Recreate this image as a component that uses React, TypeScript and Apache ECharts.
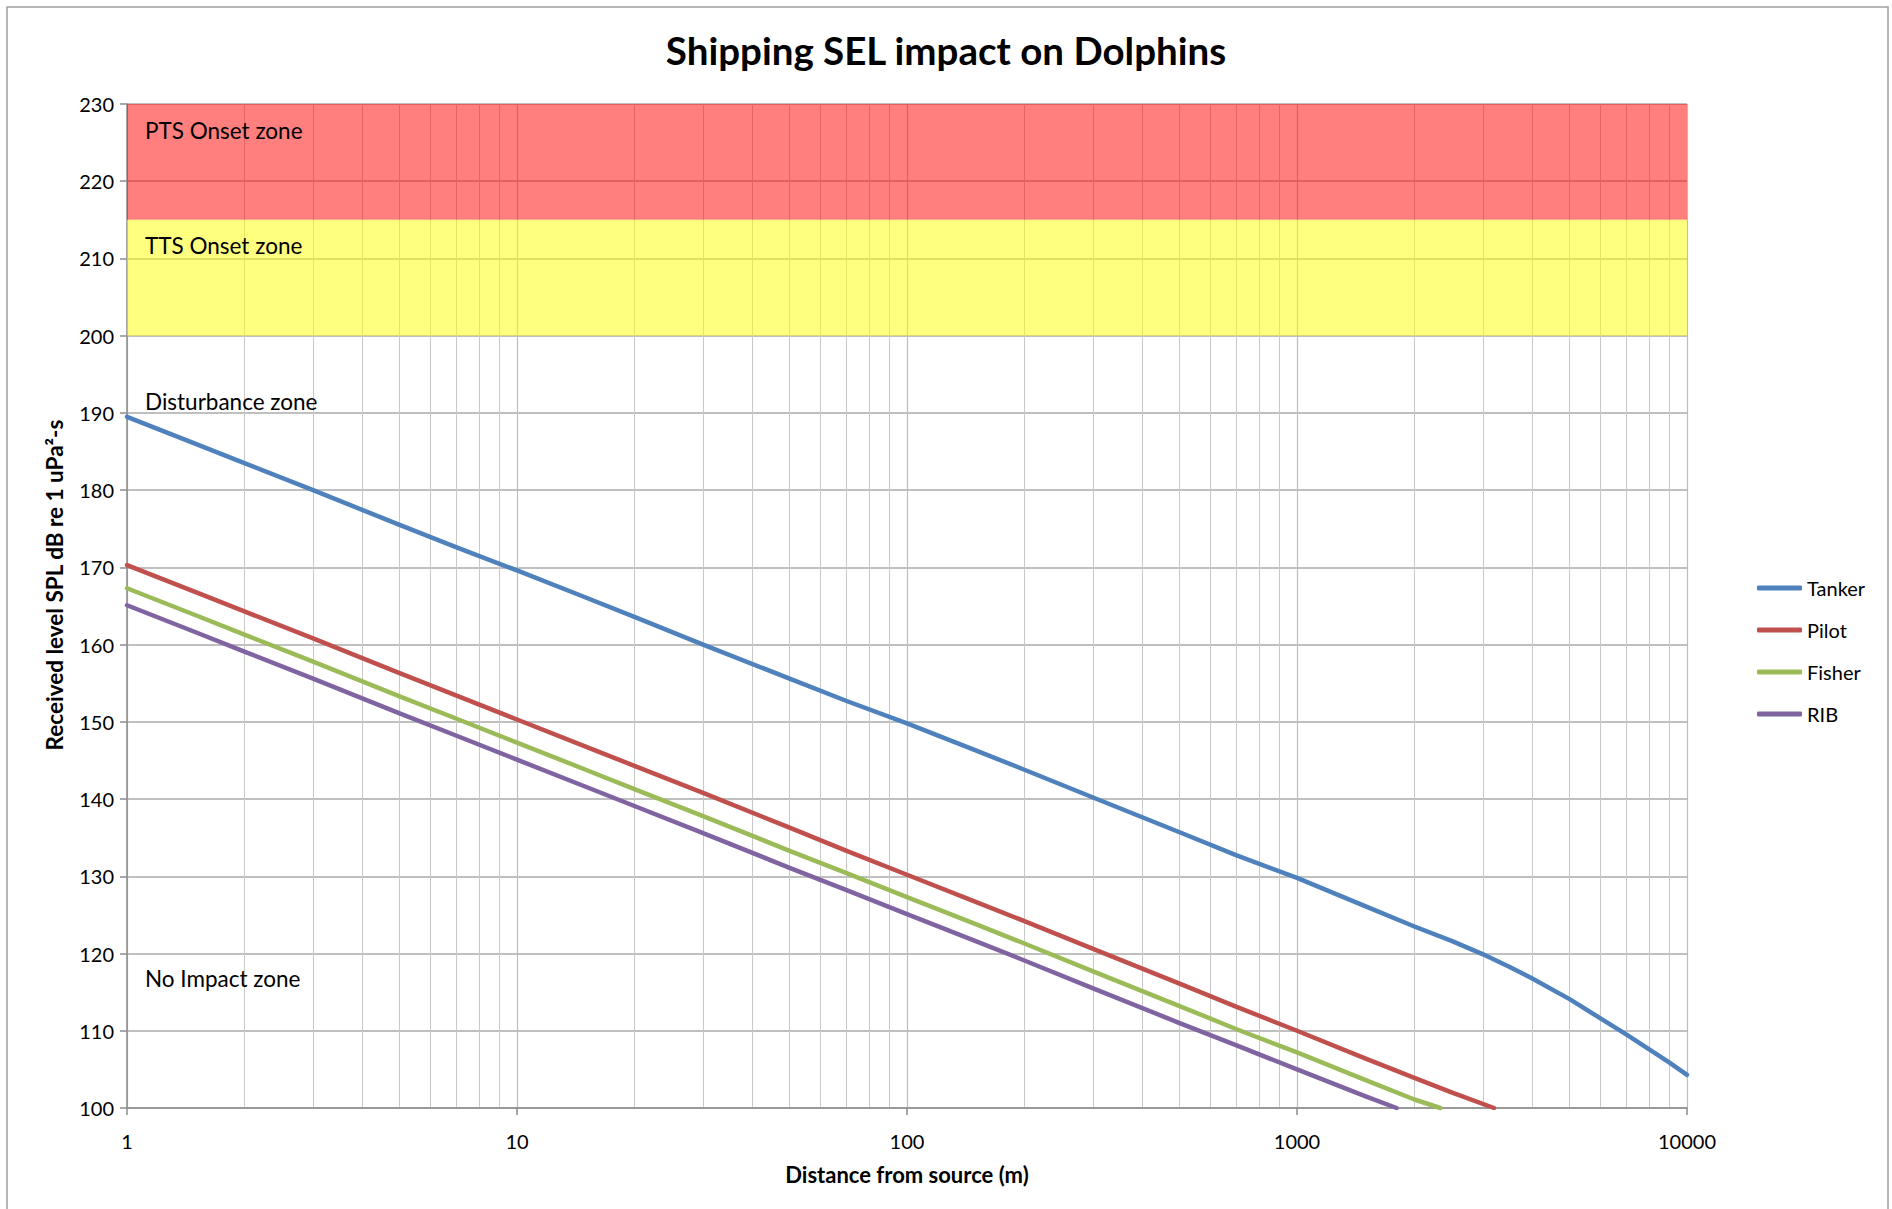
import React, { useEffect, useRef } from "react";
import * as echarts from "echarts";

// ---- Data ----
const TITLE = "Shipping SEL impact on Dolphins";
const X_NAME = "Distance from source (m)";
const Y_NAME = "Received level SPL dB re 1 uPa²-s";

const X_MIN = 1;
const X_MAX = 10000;
const Y_MIN = 100;
const Y_MAX = 230;
const Y_STEP = 10;

// minor (2..9 per decade) vertical grid lines of the log axis
const MINOR_GRID = [
  2, 3, 4, 5, 6, 7, 8, 9,
  20, 30, 40, 50, 60, 70, 80, 90,
  200, 300, 400, 500, 600, 700, 800, 900,
  2000, 3000, 4000, 5000, 6000, 7000, 8000, 9000,
];

const SERIES_NAMES = ["Tanker", "Pilot", "Fisher", "RIB"];
const SERIES_COLORS = ["#4F81BD", "#C0504D", "#9BBB59", "#8064A2"];

const TANKER_X = [1, 1.5, 2, 3, 5, 7, 10, 15, 20, 30, 50, 70, 100, 150, 200, 300, 500, 700, 1000, 1500, 2000, 2500, 3000, 3500, 4000, 5000, 6000, 7000, 8000, 9000, 10000];
const TANKER_Y = [189.5, 186.0, 183.5, 180.0, 175.5, 172.6, 169.6, 166.1, 163.6, 160.0, 155.6, 152.7, 149.8, 146.3, 143.8, 140.2, 135.7, 132.7, 129.8, 126.1, 123.5, 121.6, 119.9, 118.3, 116.8, 114.1, 111.6, 109.5, 107.6, 105.9, 104.3];

const PILOT_X = [1, 1.5, 2, 3, 5, 7, 10, 15, 20, 30, 50, 70, 100, 150, 200, 300, 500, 700, 1000, 1500, 2000, 2500, 3200];
const PILOT_Y = [170.3, 166.8, 164.3, 160.8, 156.3, 153.4, 150.3, 146.8, 144.3, 140.8, 136.3, 133.3, 130.2, 126.7, 124.2, 120.6, 116.1, 113.1, 110.0, 106.4, 103.9, 102.0, 100];

const FISHER_X = [1, 1.5, 2, 3, 5, 7, 10, 15, 20, 30, 50, 70, 100, 150, 200, 300, 500, 700, 1000, 1500, 2000, 2330];
const FISHER_Y = [167.3, 163.8, 161.3, 157.8, 153.3, 150.4, 147.3, 143.8, 141.3, 137.8, 133.3, 130.4, 127.3, 123.8, 121.3, 117.7, 113.2, 110.2, 107.2, 103.6, 101.1, 100];

const RIB_X = [1, 1.5, 2, 3, 5, 7, 10, 15, 20, 30, 50, 70, 100, 150, 200, 300, 500, 700, 1000, 1500, 1800];
const RIB_Y = [165.1, 161.6, 159.1, 155.6, 151.1, 148.2, 145.1, 141.6, 139.1, 135.6, 131.1, 128.2, 125.1, 121.6, 119.1, 115.5, 111.0, 108.1, 105.0, 101.5, 100];

const SERIES_X = [TANKER_X, PILOT_X, FISHER_X, RIB_X];
const SERIES_Y = [TANKER_Y, PILOT_Y, FISHER_Y, RIB_Y];

// Zones (y ranges) and their colours
const ZONE_FROM = [215, 200];
const ZONE_TO = [230, 215];
const ZONE_COLORS = ["rgba(255,0,0,0.5)", "rgba(255,255,0,0.5)"];

const ZONE_LABELS = ["PTS Onset zone", "TTS Onset zone", "Disturbance zone", "No Impact zone"];

const FONT = "Lato, 'Open Sans', sans-serif";

export default function App() {
  const ref = useRef<HTMLDivElement>(null);

  useEffect(() => {
    if (!ref.current) return;
    const chart = echarts.init(ref.current, undefined, { renderer: "svg" });

    const lineSeries = SERIES_NAMES.map((name, i) => ({
      name,
      type: "line",
      data: SERIES_X[i].map((x, j) => [x, SERIES_Y[i][j]]),
      showSymbol: false,
      symbol: "none",
      smooth: false,
      z: 3,
      lineStyle: { width: 4.5, color: SERIES_COLORS[i], cap: "round", join: "round" },
      itemStyle: { color: SERIES_COLORS[i] },
    }));

    const option: any = {
      animation: false,
      backgroundColor: "#ffffff",
      title: {
        text: TITLE,
        left: "center",
        top: 25,
        textStyle: { fontFamily: FONT, fontSize: 38.5, fontWeight: "bold", color: "#000" },
      },
      grid: { left: 127, right: 205, top: 104, bottom: 101, containLabel: false },
      legend: {
        orient: "vertical",
        left: 1752,
        top: 573,
        icon: "roundRect",
        itemWidth: 45,
        itemHeight: 5,
        itemGap: 22,
        data: SERIES_NAMES,
        textStyle: { fontFamily: FONT, fontSize: 20, color: "#000", lineHeight: 20 },
        selectedMode: false,
      },
      xAxis: {
        type: "log",
        logBase: 10,
        min: X_MIN,
        max: X_MAX,
        name: X_NAME,
        nameLocation: "middle",
        nameGap: 55,
        nameTextStyle: { fontFamily: FONT, fontSize: 22, fontWeight: "bold", color: "#000" },
        axisLine: { show: true, lineStyle: { color: "#8C8C8C", width: 1.5 } },
        axisTick: { show: true, length: 7, lineStyle: { color: "#8C8C8C", width: 1.5 } },
        axisLabel: {
          margin: 23,
          fontFamily: FONT,
          fontSize: 20,
          color: "#000",
          formatter: (v: number) => String(Math.round(v)),
        },
        splitLine: { show: true, lineStyle: { color: "#BDBDBD", width: 1.2 } },
      },
      yAxis: {
        type: "value",
        min: Y_MIN,
        max: Y_MAX,
        interval: Y_STEP,
        axisLine: { show: true, lineStyle: { color: "#8C8C8C", width: 1.5 } },
        axisTick: { show: true, length: 7, lineStyle: { color: "#8C8C8C", width: 1.5 } },
        axisLabel: { margin: 13, fontFamily: FONT, fontSize: 20, color: "#000" },
        splitLine: { show: true, lineStyle: { color: "#ABABAB", width: 1.5 } },
      },
      series: [
        {
          name: "zones",
          type: "line",
          data: [],
          silent: true,
          markArea: {
            silent: true,
            z: 1,
            data: ZONE_FROM.map((from, i) => [
              { yAxis: from, itemStyle: { color: ZONE_COLORS[i] } },
              { yAxis: ZONE_TO[i] },
            ]),
          },
          markLine: {
            silent: true,
            z: 0,
            symbol: ["none", "none"],
            label: { show: false },
            lineStyle: { color: "#C8C8C8", width: 1, type: "solid" },
            emphasis: { disabled: true },
            data: MINOR_GRID.map((v) => ({ xAxis: v })),
          },
        },
        ...lineSeries,
      ],
      graphic: [
        {
          type: "rect",
          silent: true,
          z: 100,
          shape: { x: 7, y: 7, width: 1881, height: 1220 },
          style: { fill: "none", stroke: "#A0A0A0", lineWidth: 1.5 },
        },
        {
          type: "text",
          z: 100,
          x: 54,
          y: 585,
          rotation: Math.PI / 2,
          style: {
            text: Y_NAME,
            fontFamily: FONT,
            fontSize: 22.5,
            fontWeight: "bold",
            fill: "#000",
            align: "center",
            verticalAlign: "middle",
          },
        },
        ...[130, 245, 401, 978].map((y, i) => ({
          type: "text",
          z: 100,
          x: 145,
          y,
          style: {
            text: ZONE_LABELS[i],
            fontFamily: FONT,
            fontSize: 22.5,
            fill: "#000",
            align: "left",
            verticalAlign: "middle",
          },
        })),
      ],
    };

    chart.setOption(option);
    return () => chart.dispose();
  }, []);

  return (
    <div
      ref={ref}
      style={{ position: "absolute", left: 0, top: 0, width: 1892, height: 1209 }}
    />
  );
}
